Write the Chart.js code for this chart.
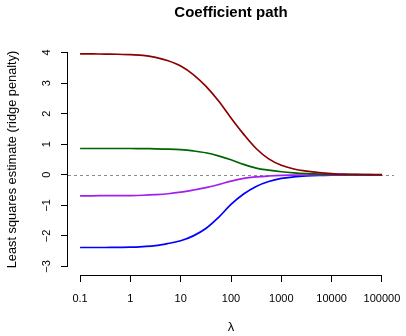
<!DOCTYPE html>
<html>
<head>
<meta charset="utf-8">
<script src="https://cdn.jsdelivr.net/npm/chart.js@4.4.1/dist/chart.umd.min.js"></script>
<style>
  body { margin: 0; background: #fff; }
</style>
</head>
<body>
<canvas id="grafico" width="406" height="336"></canvas>
<script>
// Valores (camino de coeficientes, ridge), cada cuarto de decada
const lambdas = [0.1, 0.178, 0.316, 0.562, 1, 1.78, 3.16, 5.62, 10, 17.8, 31.6, 56.2, 100, 178, 316, 562, 1000, 1780, 3160, 5620, 10000, 17800, 31600, 56200, 100000];
const coefRojo = [3.96, 3.955, 3.95, 3.945, 3.93, 3.91, 3.84, 3.73, 3.56, 3.28, 2.90, 2.42, 1.86, 1.33, 0.86, 0.52, 0.31, 0.19, 0.12, 0.07, 0.04, 0.023, 0.013, 0.007, 0.004];
const coefVerde = [0.86, 0.86, 0.86, 0.86, 0.86, 0.855, 0.85, 0.84, 0.82, 0.78, 0.72, 0.62, 0.49, 0.34, 0.22, 0.15, 0.10, 0.065, 0.04, 0.022, 0.012, 0.007, 0.004, 0.002, 0.001];
const coefMorado = [-0.69, -0.69, -0.68, -0.68, -0.68, -0.67, -0.65, -0.62, -0.57, -0.50, -0.42, -0.32, -0.21, -0.12, -0.07, -0.04, -0.02, -0.012, -0.008, -0.005, -0.003, -0.002, -0.001, -0.001, 0];
const coefAzul = [-2.38, -2.38, -2.38, -2.375, -2.37, -2.35, -2.32, -2.25, -2.16, -2.0, -1.76, -1.40, -0.97, -0.63, -0.38, -0.22, -0.12, -0.07, -0.04, -0.022, -0.012, -0.007, -0.004, -0.002, -0.001];

const xTicks = [0.1, 1, 10, 100, 1000, 10000, 100000];
const xTickLabels = ['0.1', '1', '10', '100', '1000', '10000', '100000'];
const yTicks = [-3, -2, -1, 0, 1, 2, 3, 4];

const titulo = 'Coefficient path';
const fuente = "'Liberation Sans', Arial, Helvetica, sans-serif";

const puntos = vals => vals.map((v, i) => ({ x: lambdas[i], y: v }));

const serie = (vals, color) => ({
  data: puntos(vals),
  borderColor: color,
  borderWidth: 1.7,
  pointRadius: 0,
  fill: false,
  tension: 0.35
});

// Lineas de eje al estilo R (solo entre primer y ultimo tick), linea en 0 y titulo
const estiloR = {
  id: 'estiloR',
  beforeDatasetsDraw(chart) {
    const { ctx, chartArea, scales: { y } } = chart;
    const y0 = Math.round(y.getPixelForValue(0)) + 0.5;
    ctx.save();
    ctx.strokeStyle = '#8a8a8a';
    ctx.lineWidth = 1;
    ctx.setLineDash([3, 3]);
    ctx.beginPath();
    ctx.moveTo(chartArea.left, y0);
    ctx.lineTo(chartArea.right, y0);
    ctx.stroke();
    ctx.restore();
  },
  afterDraw(chart) {
    const { ctx, chartArea, scales: { x, y } } = chart;
    ctx.save();
    ctx.strokeStyle = '#000';
    ctx.lineWidth = 1;
    const xb = Math.round(chartArea.bottom) + 0.5;
    ctx.beginPath();
    ctx.moveTo(x.getPixelForValue(xTicks[0]), xb);
    ctx.lineTo(x.getPixelForValue(xTicks[xTicks.length - 1]), xb);
    const yl = Math.round(chartArea.left) - 0.5;
    ctx.moveTo(yl, y.getPixelForValue(yTicks[yTicks.length - 1]));
    ctx.lineTo(yl, y.getPixelForValue(yTicks[0]));
    ctx.stroke();

    ctx.fillStyle = '#000';
    ctx.font = 'bold 15px ' + fuente;
    ctx.textAlign = 'center';
    ctx.textBaseline = 'middle';
    ctx.fillText(titulo, (chartArea.left + chartArea.right) / 2, 13);
    ctx.restore();
  }
};

new Chart(document.getElementById('grafico').getContext('2d'), {
  type: 'line',
  data: {
    datasets: [
      serie(coefRojo, '#8B0000'),
      serie(coefVerde, '#006400'),
      serie(coefMorado, '#A020F0'),
      serie(coefAzul, '#0000FF')
    ]
  },
  options: {
    responsive: false,
    animation: false,
    layout: { padding: { top: 44, right: 12, left: 0, bottom: 0 } },
    plugins: { legend: { display: false }, tooltip: { enabled: false } },
    scales: {
      x: {
        type: 'logarithmic',
        min: Math.pow(10, -1.24),
        max: Math.pow(10, 5.24),
        afterBuildTicks: s => { s.ticks = xTicks.map(v => ({ value: v })); },
        afterFit: s => { s.height = 61; s.paddingLeft = 0; s.paddingRight = 0; },
        border: { display: false },
        grid: { drawOnChartArea: false, drawTicks: true, tickLength: 7, color: '#000' },
        ticks: {
          autoSkip: false, maxRotation: 0, minRotation: 0, padding: 10,
          color: '#000', font: { family: fuente, size: 11 },
          callback: (v) => xTickLabels[xTicks.indexOf(v)]
        },
        title: { display: true, text: 'λ', color: '#000', font: { family: fuente, size: 13 }, padding: { top: 0, bottom: 1 } }
      },
      y: {
        type: 'linear',
        min: -3.28,
        max: 4.28,
        afterBuildTicks: s => { s.ticks = yTicks.map(v => ({ value: v })); },
        afterFit: s => { s.width = 68; s.paddingTop = 0; s.paddingBottom = 0; },
        border: { display: false },
        grid: { drawOnChartArea: false, drawTicks: true, tickLength: 7, color: '#000' },
        ticks: {
          minRotation: 90, maxRotation: 90, crossAlign: 'center', padding: 8,
          color: '#000', font: { family: fuente, size: 11 },
          callback: (v) => String(v).replace('-', '\u2212')
        },
        title: { display: true, text: 'Least squares estimate (ridge penalty)', color: '#000', font: { family: fuente, size: 12.8 }, padding: { top: 5, bottom: 0 } }
      }
    }
  },
  plugins: [estiloR]
});
</script>
</body>
</html>
